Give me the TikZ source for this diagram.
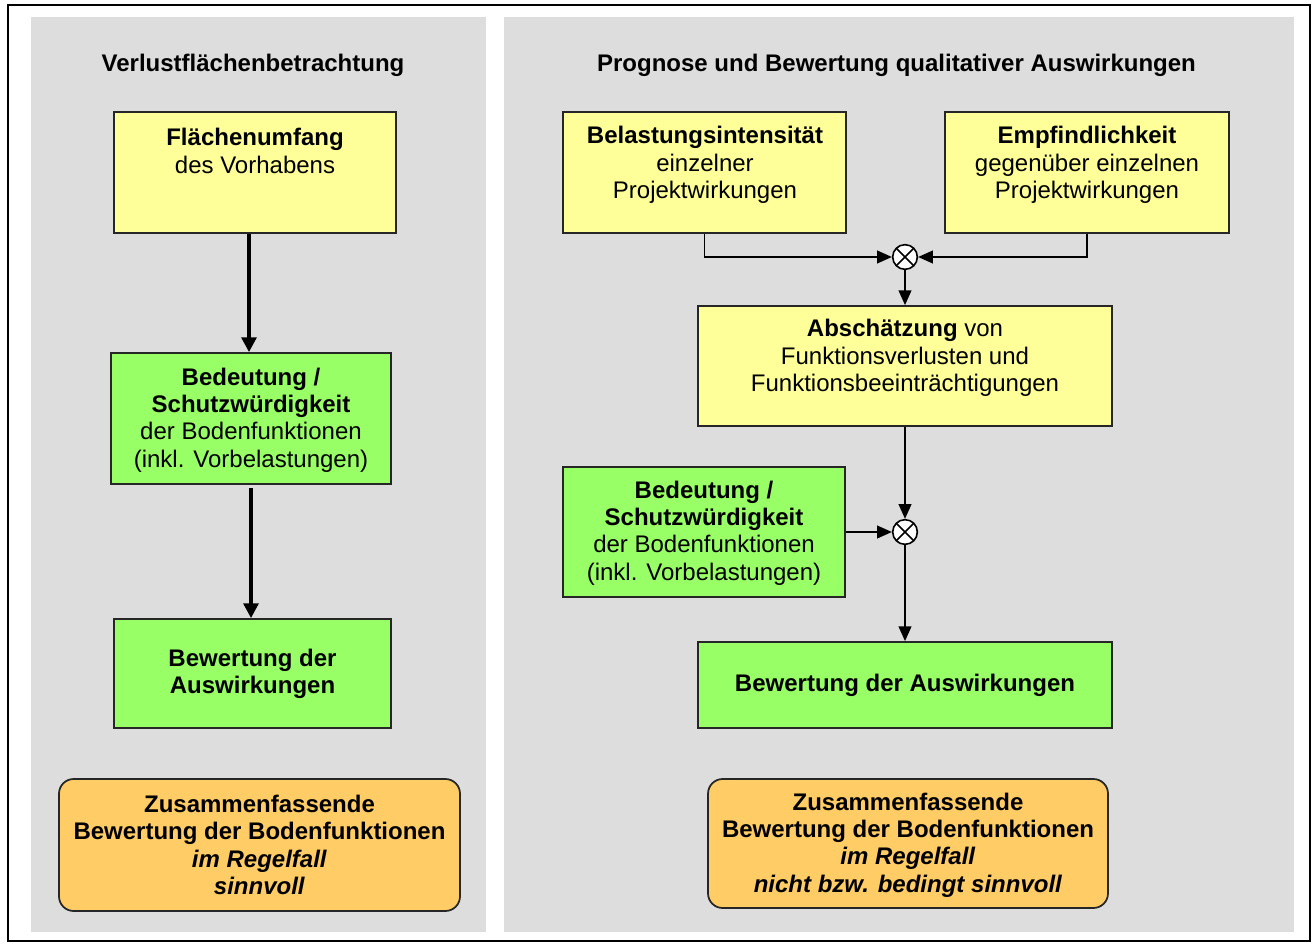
\documentclass[tikz,border=0pt]{standalone}
\usepackage{fontspec}
\setmainfont{Liberation Sans}
\usetikzlibrary{arrows.meta,fit}
\definecolor{panelgray}{HTML}{DDDDDD}
\definecolor{boxyellow}{HTML}{FFFF99}
\definecolor{boxgreen}{HTML}{99FF66}
\definecolor{boxorange}{HTML}{FFCC66}
\tikzset{
  box/.style={draw=black!85, line width=1.3pt, inner sep=0pt},
  ybox/.style={box, fill=boxyellow},
  gbox/.style={box, fill=boxgreen},
  obox/.style={box, fill=boxorange, rounded corners=11pt},
  txt/.style={align=center, inner sep=0pt, font=\fontsize{18}{20.5}\selectfont},
  ttl/.style={inner sep=0pt, font=\fontsize{18}{20.5}\selectfont\bfseries},
  arrL/.style={line width=2.6pt, -{Triangle[length=11pt,width=11pt]}},
  arrR/.style={line width=1.2pt, -{Triangle[length=11pt,width=9.5pt]}},
  mult/.style={circle, draw, fill=white, line width=1.2pt, minimum size=18.5pt, inner sep=0pt,
    path picture={\draw[line width=1.2pt] (path picture bounding box.north west) -- (path picture bounding box.south east)
      (path picture bounding box.north east) -- (path picture bounding box.south west);}}
}
\begin{document}
\begin{tikzpicture}[x=0.75pt,y=-0.75pt]
\useasboundingbox (0,0) rectangle (1312,944);
\fill[white] (0,0) rectangle (1312,944);
% outer frame
\draw[line width=1.5pt] (8,5) rectangle (1310,941);
% panels
\fill[panelgray] (31,17) rectangle (486,932);
\fill[panelgray] (504,17) rectangle (1294,932);

% ---------- left column ----------
\node[ttl] (tl) at (253,65) {Verlustflächenbetrachtung};
\node[ybox, fit={(114,112) (396,233)}] (fl) {};
\node[txt] (tfl) at (255,151) {\textbf{Flächenumfang}\\des Vorhabens};
\node[gbox, fit={(111,353) (391,484)}] (bdl) {};
\node[txt] (tbdl) at (251,420) {\textbf{Bedeutung /}\\\textbf{Schutzwürdigkeit}\\der Bodenfunktionen\\(inkl. Vorbelastungen)};
\node[gbox, fit={(114,619) (391,728)}] (bwl) {};
\node[txt] (tbwl) at (252.5,674) {\textbf{Bewertung der}\\\textbf{Auswirkungen}};
\node[obox, fit={(59,779) (460,911)}] (zl) {};
\node[txt] (tzl) at (259.5,845) {\textbf{Zusammenfassende}\\\textbf{Bewertung der Bodenfunktionen}\\\textbf{\itshape im Regelfall}\\\textbf{\itshape sinnvoll}};

\draw[arrL] ([xshift=-4.5pt]fl.south) -- ([xshift=-4.5pt]fl.south |- bdl.north);
\draw[arrL] ([yshift=-2pt]bdl.south) -- (bdl.south |- bwl.north);

% ---------- right column ----------
\node[ttl] (tr) at (896.5,65) {Prognose und Bewertung qualitativer Auswirkungen};
\node[ybox, fit={(563,112) (846,233)}] (bel) {};
\node[txt] (tbel) at (705,165) {\textbf{Belastungsintensität}\\einzelner\\Projektwirkungen};
\node[ybox, fit={(945,112) (1229,233)}] (emp) {};
\node[txt] (temp) at (1087,165) {\textbf{Empfindlichkeit}\\gegenüber einzelnen\\Projektwirkungen};
\node[mult] (c1) at (905,257) {};
\node[ybox, fit={(698,306) (1112,426)}] (abs) {};
\node[txt] (tabs) at (905,358) {\textbf{Abschätzung} von\\Funktionsverlusten und\\Funktionsbeeinträchtigungen};
\node[mult] (c2) at (905,532) {};
\node[gbox, fit={(563,467) (845,597)}] (bdr) {};
\node[txt] (tbdr) at (704,533) {\textbf{Bedeutung /}\\\textbf{Schutzwürdigkeit}\\der Bodenfunktionen\\(inkl. Vorbelastungen)};
\node[gbox, fit={(698,642) (1112,728)}] (bwr) {};
\node[txt] (tbwr) at (905,685) {\textbf{Bewertung der Auswirkungen}};
\node[obox, fit={(708,779) (1108,908)}] (zr) {};
\node[txt] (tzr) at (908,845) {\textbf{Zusammenfassende}\\\textbf{Bewertung der Bodenfunktionen}\\\textbf{\itshape im Regelfall}\\\textbf{\itshape nicht bzw. bedingt sinnvoll}};

\draw[arrR] (bel.south) |- (c1.west);
\draw[arrR] (emp.south) |- (c1.east);
\draw[arrR] (c1.south) -- (abs.north);
\draw[arrR] (abs.south) -- (c2.north);
\draw[arrR] (bdr.east) -- (c2.west);
\draw[arrR] (c2.south) -- (bwr.north);
\end{tikzpicture}
\end{document}
